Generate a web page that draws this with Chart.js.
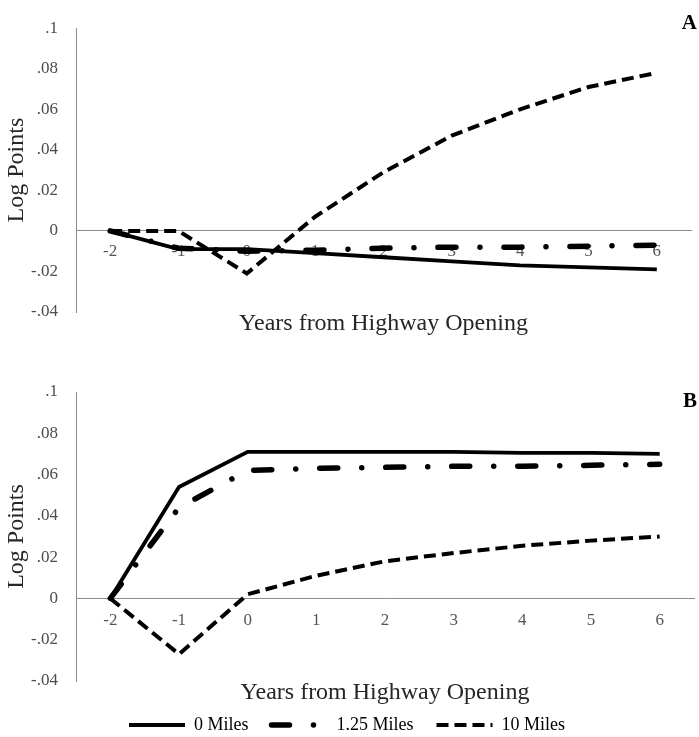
<!DOCTYPE html>
<html>
<head>
<meta charset="utf-8">
<script src="https://cdn.jsdelivr.net/npm/chart.js@4.4.1/dist/chart.umd.min.js"></script>
<style>
  body { margin: 0; background: #fff; }
  canvas { display: block; }
</style>
</head>
<body>
<canvas id="panelA" width="699" height="349"></canvas>
<canvas id="panelB" width="699" height="388"></canvas>
<script>
const years = ['-2', '-1', '0', '1', '2', '3', '4', '5', '6'];
const seriesNames = ['0 Miles', '1.25 Miles', '10 Miles'];
const yTicks = [-0.04, -0.02, 0, 0.02, 0.04, 0.06, 0.08, 0.1];

// panel A
const a0Miles   = [0, -0.009, -0.009, -0.011, -0.013, -0.015, -0.017, -0.018, -0.019];
const a125Miles = [0, -0.0085, -0.010, -0.0095, -0.0085, -0.008, -0.008, -0.0075, -0.007];
const a10Miles  = [0, 0, -0.021, 0.007, 0.029, 0.047, 0.060, 0.071, 0.078];

// panel B
const b0Miles   = [0, 0.054, 0.071, 0.071, 0.071, 0.071, 0.0705, 0.0705, 0.070];
const b125Miles = [0, 0.044, 0.062, 0.063, 0.0635, 0.064, 0.064, 0.0645, 0.065];
const b10Miles  = [0, -0.027, 0.002, 0.011, 0.018, 0.022, 0.0255, 0.028, 0.030];

const serif = '"Liberation Serif", "DejaVu Serif", serif';
Chart.defaults.font.family = serif;
Chart.defaults.color = '#404040';

function tickText(v) {
  if (Math.abs(v) < 1e-9) return '0';
  return String(+v.toFixed(2)).replace('0.', '.');
}

// the bold panel letter in the top right corner
const panelLetter = {
  id: 'panelLetter',
  afterDraw(chart, args, opts) {
    const ctx = chart.ctx;
    ctx.save();
    ctx.font = 'bold 21px ' + serif;
    ctx.fillStyle = '#000';
    ctx.textAlign = 'right';
    ctx.textBaseline = 'middle';
    ctx.fillText(opts.text, opts.x, opts.y);
    ctx.restore();
  }
};

function makeChart(id, values, letter, letterY, showLegend, pad, titlePad, xPad) {
  return new Chart(document.getElementById(id), {
    type: 'line',
    data: {
      labels: years,
      datasets: [
        { label: seriesNames[0], data: values[0], borderColor: '#000', backgroundColor: '#000',
          borderWidth: 3.8, borderCapStyle: 'butt' },
        { label: seriesNames[1], data: values[1], borderColor: '#000', backgroundColor: '#000',
          borderWidth: 5.5, borderDash: [18, 24, 0.01, 24], borderCapStyle: 'round' },
        { label: seriesNames[2], data: values[2], borderColor: '#000', backgroundColor: '#000',
          borderWidth: 4, borderDash: [12, 6], borderCapStyle: 'butt' }
      ]
    },
    options: {
      responsive: false,
      animation: false,
      elements: { point: { radius: 0, hoverRadius: 0 }, line: { tension: 0 } },
      layout: { padding: pad },
      scales: {
        x: {
          type: 'category',
          position: { y: 0 },
          offset: true,
          grid: { display: false, drawTicks: false },
          border: { color: '#8c8c8c', width: 1 },
          ticks: { color: '#555', font: { size: 17 }, padding: xPad, maxRotation: 0, autoSkip: false }
        },
        xTitle: {
          type: 'category',
          axis: 'x',
          position: 'bottom',
          offset: true,
          grid: { display: false, drawTicks: false },
          border: { display: false },
          ticks: { display: false },
          title: {
            display: true,
            text: 'Years from Highway Opening',
            color: '#262626',
            font: { size: 24, lineHeight: 1 },
            padding: titlePad
          }
        },
        y: {
          min: -0.04,
          max: 0.1,
          grid: { display: false, drawTicks: false },
          border: { color: '#8c8c8c', width: 1 },
          afterBuildTicks: s => { s.ticks = yTicks.map(v => ({ value: v })); },
          afterFit: s => { s.width = 76; },
          ticks: { color: '#4d4d4d', font: { size: 17 }, padding: 18, callback: v => tickText(v) },
          title: {
            display: true,
            text: 'Log Points',
            color: '#262626',
            font: { size: 24, lineHeight: 1 },
            padding: { top: 5, bottom: 0 }
          }
        }
      },
      plugins: {
        tooltip: { enabled: false },
        panelLetter: { text: letter, x: 697, y: letterY },
        legend: {
          display: showLegend,
          position: 'bottom',
          maxHeight: 44,
          labels: {
            usePointStyle: true,
            pointStyleWidth: 56,
            padding: 23,
            color: '#000',
            font: { size: 18 },
            generateLabels: chart => chart.data.datasets.map((ds, i) => ({
              text: ds.label,
              fillStyle: ds.borderColor,
              strokeStyle: ds.borderColor,
              lineWidth: ds.borderWidth,
              lineDash: ds.borderDash || [],
              lineCap: ds.borderCapStyle,
              pointStyle: 'line',
              fontColor: '#000',
              hidden: false,
              datasetIndex: i
            }))
          }
        }
      }
    },
    plugins: [panelLetter]
  });
}

makeChart('panelA', [a0Miles, a125Miles, a10Miles], 'A', 24, false,
  { top: 15, right: 8, bottom: 13, left: 0 }, { top: 0, bottom: 0 }, 10);
makeChart('panelB', [b0Miles, b125Miles, b10Miles], 'B', 53, true,
  { top: 43, right: 5, bottom: 0, left: 0 }, { top: 0, bottom: -12 }, 12);
</script>
</body>
</html>
